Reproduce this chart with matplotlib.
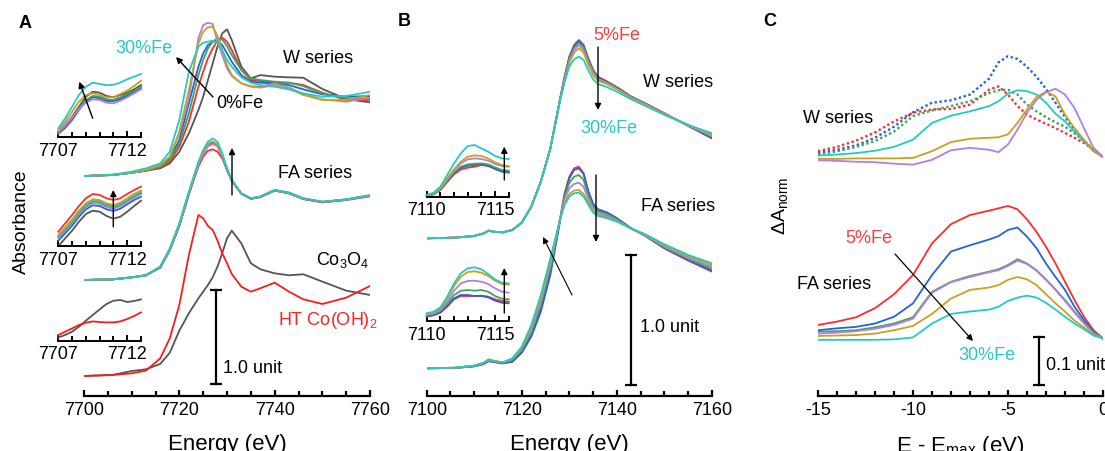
import matplotlib
matplotlib.use('Agg')
import matplotlib.pyplot as plt
from matplotlib.ticker import MultipleLocator, FixedLocator

plt.rcParams['font.family'] = ['Liberation Sans', 'DejaVu Sans']
plt.rcParams['mathtext.fontset'] = 'custom'
plt.rcParams['mathtext.rm'] = 'Liberation Sans'
plt.rcParams['mathtext.it'] = 'Liberation Sans:italic'
plt.rcParams['mathtext.bf'] = 'Liberation Sans:bold'
plt.rcParams['axes.unicode_minus'] = False

# ---------------- Panel A data (Co K-edge) ----------------
A_E = [7700, 7706, 7710, 7713, 7716, 7718, 7720, 7722, 7724, 7725, 7726, 7727, 7728,
       7729, 7730, 7731, 7733, 7735, 7737, 7740, 7743, 7746, 7750, 7755, 7760]
A_W_OFFSET = 2.34
A_FA_OFFSET = 1.234
A_REF_OFFSET = 0.213

A_W_gray = [0, .014, .035, .057, .082, .135, .259, .454, .702, .844, 1.021, 1.199, 1.376, 1.518, 1.560, 1.447, 1.163, 1.039, 1.074, 1.057, 1.050, 1.046, .926, .819, .784]
A_W_red = [0, .011, .035, .057, .092, .152, .312, .578, .950, 1.110, 1.252, 1.358, 1.440, 1.472, 1.429, 1.340, 1.128, 1.021, 1.011, .993, .993, .968, .887, .809, .809]
A_W_blue = [0, .011, .035, .057, .110, .188, .383, .773, 1.163, 1.305, 1.394, 1.429, 1.440, 1.394, 1.305, 1.216, 1.074, 1.004, .993, .986, .968, .922, .869, .844, .851]
A_W_green = [0, .011, .035, .057, .099, .170, .348, .667, 1.074, 1.234, 1.358, 1.429, 1.465, 1.454, 1.383, 1.287, 1.128, 1.039, 1.021, 1.004, .993, .957, .879, .826, .826]
A_W_purple = [0, .011, .035, .064, .117, .206, .454, .826, 1.465, 1.606, 1.631, 1.617, 1.429, 1.287, 1.145, 1.064, .986, .957, .950, .986, .943, .872, .816, .791, .833]
A_W_gold = [0, .011, .035, .064, .117, .206, .472, .915, 1.411, 1.535, 1.582, 1.589, 1.489, 1.340, 1.181, 1.074, .986, .950, .940, .968, .933, .862, .809, .809, .862]
A_W_cyan = [0, .014, .046, .082, .135, .259, .596, 1.110, 1.376, 1.418, 1.429, 1.440, 1.411, 1.340, 1.234, 1.163, 1.050, .993, .968, .950, .922, .879, .844, .851, .897]

A_FA_gray = [0, .007, .028, .050, .130, .315, .575, .910, 1.235, 1.350, 1.430, 1.455, 1.430, 1.318, 1.172, 1.058, .920, .866, .885, .955, .926, .866, .830, .855, .898]
A_FA_red = [0, .007, .028, .052, .140, .325, .585, .915, 1.206, 1.312, 1.376, 1.390, 1.365, 1.294, 1.170, 1.055, .918, .862, .880, .950, .920, .860, .825, .850, .890]
A_FA_blue = [0, .007, .028, .050, .136, .322, .585, .920, 1.235, 1.352, 1.432, 1.458, 1.432, 1.320, 1.175, 1.058, .920, .866, .885, .955, .926, .866, .830, .855, .898]
A_FA_green = [0, .007, .028, .050, .138, .325, .590, .925, 1.240, 1.360, 1.440, 1.465, 1.440, 1.325, 1.178, 1.060, .920, .869, .887, .957, .929, .866, .830, .855, .898]
A_FA_purple = [0, .007, .028, .050, .137, .324, .588, .922, 1.228, 1.345, 1.420, 1.445, 1.422, 1.315, 1.172, 1.057, .920, .866, .885, .955, .926, .866, .830, .855, .898]
A_FA_gold = [0, .007, .028, .050, .140, .330, .595, .930, 1.245, 1.365, 1.450, 1.475, 1.445, 1.330, 1.180, 1.060, .922, .869, .887, .957, .929, .869, .833, .858, .900]
A_FA_cyan = [0, .007, .028, .050, .142, .337, .603, .940, 1.259, 1.383, 1.472, 1.507, 1.472, 1.348, 1.188, 1.064, .922, .869, .887, .957, .929, .869, .833, .858, .904]

A_REF_CoOH2 = [0, .011, .028, .057, .188, .401, .755, 1.287, 1.713, 1.677, 1.596, 1.553, 1.440, 1.305, 1.199, 1.085, .950, .897, .933, .993, .897, .816, .766, .833, .957]
A_REF_Co3O4 = [0, .011, .053, .071, .128, .248, .482, .667, .826, .897, .968, 1.050, 1.163, 1.305, 1.465, 1.546, 1.411, 1.199, 1.135, 1.092, 1.071, 1.082, 1.004, .908, .862]

# pre-edge insets of panel A
A_IN_E = [7707, 7707.5, 7708, 7708.5, 7709, 7709.5, 7710, 7710.5, 7711, 7711.5, 7712, 7712.5, 7713]
A_IN1_gray = [.053, .12, .203, .303, .403, .453, .443, .41, .397, .42, .443, .477, .52]
A_IN1_red = [.03, .09, .17, .27, .36, .403, .39, .363, .363, .38, .41, .45, .487]
A_IN1_blue = [.04, .10, .18, .28, .36, .397, .39, .363, .36, .38, .413, .45, .49]
A_IN1_green = [.037, .103, .187, .287, .37, .41, .403, .377, .37, .397, .43, .463, .503]
A_IN1_purple = [.053, .12, .197, .277, .343, .377, .37, .343, .337, .363, .397, .437, .477]
A_IN1_gold = [.07, .153, .253, .353, .42, .437, .42, .397, .397, .43, .463, .51, .563]
A_IN1_cyan = [.087, .187, .303, .42, .503, .543, .53, .517, .523, .543, .577, .603, .63]

A_IN2_gray = [0, .077, .153, .243, .32, .353, .343, .30, .273, .293, .343, .40, .453]
A_IN2_red = [.143, .227, .31, .40, .477, .52, .51, .477, .46, .477, .52, .56, .593]
A_IN2_blue = [.053, .127, .203, .293, .367, .407, .40, .367, .35, .373, .417, .46, .493]
A_IN2_green = [.093, .167, .243, .333, .407, .447, .44, .407, .39, .413, .457, .50, .533]
A_IN2_purple = [.077, .15, .227, .317, .39, .43, .423, .39, .373, .397, .44, .483, .52]
A_IN2_gold = [.11, .187, .267, .353, .427, .467, .46, .427, .41, .433, .477, .52, .553]
A_IN2_cyan = [.10, .173, .253, .343, .417, .457, .45, .417, .40, .423, .467, .51, .547]

A_IN3_CoOH2 = [.057, .09, .123, .157, .18, .193, .187, .183, .183, .193, .217, .247, .283]
A_IN3_Co3O4 = [.033, .057, .09, .14, .2, .257, .313, .367, .4, .407, .387, .397, .413]

# ---------------- Panel B data (Fe K-edge) ----------------
B_E = [7100, 7106, 7110, 7112, 7113, 7114, 7116, 7118, 7120, 7122, 7124, 7126, 7128, 7129,
       7130, 7131, 7132, 7133, 7134, 7135, 7136, 7138, 7140, 7143, 7146, 7150, 7155, 7160]
B_W_OFFSET = 1.213
B_FA_OFFSET = 0.213

B_W_red = [0, .005, .018, .038, .059, .051, .046, .064, .121, .244, .436, .690, 1.064, 1.244, 1.397, 1.487, 1.526, 1.487, 1.385, 1.295, 1.244, 1.205, 1.162, 1.090, 1.038, .962, .864, .769]
B_W_blue = [0, .005, .018, .038, .059, .051, .046, .064, .121, .244, .436, .690, 1.062, 1.240, 1.392, 1.479, 1.518, 1.479, 1.377, 1.290, 1.238, 1.203, 1.162, 1.090, 1.036, .959, .867, .769]
B_W_green = [0, .005, .018, .038, .059, .051, .046, .064, .121, .244, .436, .690, 1.060, 1.230, 1.377, 1.467, 1.505, 1.469, 1.367, 1.282, 1.233, 1.197, 1.156, 1.085, 1.033, .956, .869, .782]
B_W_purple = [0, .005, .018, .038, .059, .051, .046, .064, .121, .244, .436, .690, 1.058, 1.220, 1.364, 1.449, 1.487, 1.449, 1.351, 1.269, 1.223, 1.192, 1.151, 1.082, 1.031, .956, .869, .787]
B_W_gold = [0, .005, .018, .038, .059, .051, .046, .064, .121, .244, .436, .690, 1.055, 1.210, 1.351, 1.428, 1.462, 1.428, 1.333, 1.256, 1.213, 1.185, 1.146, 1.079, 1.028, .954, .872, .795]
B_W_cyan = [0, .005, .018, .038, .059, .051, .046, .064, .121, .244, .436, .690, 1.051, 1.205, 1.321, 1.377, 1.397, 1.372, 1.290, 1.223, 1.187, 1.162, 1.128, 1.069, 1.018, .949, .872, .808]

B_FA_red = [0, .003, .015, .033, .056, .049, .038, .051, .121, .256, .462, .744, 1.141, 1.346, 1.474, 1.538, 1.551, 1.500, 1.359, 1.264, 1.223, 1.197, 1.154, 1.077, 1.018, .923, .828, .744]
B_FA_blue = [0, .003, .015, .033, .056, .049, .038, .051, .121, .244, .436, .718, 1.121, 1.333, 1.462, 1.526, 1.538, 1.495, 1.359, 1.264, 1.223, 1.197, 1.154, 1.077, 1.018, .923, .833, .751]
B_FA_green = [0, .004, .018, .038, .062, .054, .042, .064, .141, .274, .487, .769, 1.136, 1.321, 1.428, 1.474, 1.487, 1.449, 1.333, 1.244, 1.208, 1.185, 1.146, 1.074, 1.021, .931, .841, .767]
B_FA_purple = [0, .004, .019, .040, .064, .056, .044, .069, .150, .295, .513, .795, 1.141, 1.300, 1.385, 1.418, 1.428, 1.397, 1.300, 1.223, 1.192, 1.172, 1.136, 1.074, 1.023, .936, .851, .782]
B_FA_gold = [0, .005, .020, .042, .067, .058, .045, .073, .158, .313, .538, .821, 1.141, 1.274, 1.341, 1.367, 1.372, 1.341, 1.274, 1.208, 1.179, 1.162, 1.131, 1.074, 1.026, .944, .862, .795]
B_FA_cyan = [0, .005, .021, .044, .069, .059, .046, .077, .167, .333, .564, .846, 1.141, 1.256, 1.321, 1.346, 1.351, 1.321, 1.256, 1.197, 1.172, 1.154, 1.128, 1.077, 1.031, .954, .872, .808]

B_IN_E = [7110, 7110.5, 7111, 7111.5, 7112, 7112.5, 7113, 7113.5, 7114, 7114.5, 7115, 7115.5, 7116]
B_IN1_red = [.007, .023, .067, .147, .223, .273, .29, .30, .317, .307, .283, .26, .25]
B_IN1_blue = [.007, .027, .07, .153, .233, .29, .31, .317, .323, .31, .277, .25, .24]
B_IN1_green = [.007, .027, .073, .16, .24, .30, .323, .33, .333, .323, .293, .267, .26]
B_IN1_purple = [.01, .033, .08, .173, .26, .333, .373, .383, .377, .36, .327, .307, .30]
B_IN1_gold = [.01, .033, .083, .183, .273, .35, .40, .413, .407, .383, .343, .317, .307]
B_IN1_cyan = [.017, .04, .10, .217, .333, .433, .507, .517, .483, .45, .407, .383, .377]

B_IN2_red = [.043, .057, .083, .143, .217, .25, .25, .25, .253, .243, .217, .20, .193]
B_IN2_blue = [.047, .06, .087, .15, .227, .26, .26, .25, .25, .237, .203, .183, .177]
B_IN2_green = [.053, .07, .10, .17, .26, .303, .31, .303, .31, .293, .25, .223, .217]
B_IN2_purple = [.06, .077, .11, .193, .303, .377, .40, .403, .393, .37, .327, .293, .283]
B_IN2_gold = [.07, .087, .123, .223, .35, .443, .49, .497, .483, .45, .403, .37, .363]
B_IN2_cyan = [.077, .093, .137, .243, .377, .477, .527, .537, .517, .47, .417, .383, .377]

# ---------------- Panel C data (difference spectra) ----------------
C_DE = [-15, -14, -13, -12, -11, -10, -9, -8, -7, -6, -5.5, -5, -4.5, -4, -3.5, -3, -2.5, -2, -1.5, -1, -0.5, 0]
C_W_OFFSET = 0.498
C_FA_OFFSET = 0.120

C_W_blue = [.008, .015, .024, .040, .063, .093, .113, .118, .130, .163, .197, .210, .204, .188, .167, .142, .113, .083, .057, .033, .015, 0]
C_W_red = [.012, .021, .034, .051, .074, .092, .099, .100, .109, .140, .147, .130, .106, .088, .078, .069, .060, .050, .040, .029, .015, 0]
C_W_green = [.005, .012, .021, .033, .053, .085, .097, .106, .116, .133, .139, .140, .130, .109, .095, .083, .072, .063, .049, .033, .015, 0]
C_W_cyan = [.003, .005, .008, .013, .021, .036, .071, .086, .095, .106, .116, .132, .139, .137, .130, .113, .090, .074, .053, .033, .012, 0]
C_W_gold = [-.004, -.004, -.003, -.003, -.003, -.002, .012, .031, .038, .040, .041, .047, .071, .099, .125, .136, .126, .088, .060, .036, .012, 0]
C_W_purple = [-.007, -.008, -.010, -.011, -.014, -.016, -.006, .014, .019, .015, .010, .026, .057, .092, .119, .135, .142, .130, .102, .060, .019, 0]

C_FA_red = [.028, .035, .044, .063, .092, .132, .198, .238, .257, .266, .271, .276, .269, .248, .222, .191, .156, .118, .080, .045, .017, 0]
C_FA_blue = [.017, .021, .024, .031, .045, .073, .132, .181, .194, .206, .213, .226, .231, .212, .188, .156, .128, .101, .066, .038, .014, 0]
C_FA_green = [.014, .015, .017, .023, .031, .044, .097, .118, .130, .139, .144, .153, .165, .156, .142, .123, .102, .080, .056, .033, .012, 0]
C_FA_purple = [.010, .012, .015, .020, .028, .041, .095, .117, .128, .138, .142, .151, .162, .155, .141, .122, .101, .078, .054, .031, .010, 0]
C_FA_gold = [.005, .006, .007, .010, .017, .026, .051, .083, .101, .106, .111, .122, .128, .123, .111, .092, .073, .056, .037, .023, .007, 0]
C_FA_cyan = [-.003, -.003, -.003, -.003, -.002, .002, .031, .051, .056, .060, .066, .078, .085, .089, .085, .074, .060, .045, .031, .019, .006, 0]

# ---------------- styling ----------------
COL = dict(gray='#555555', red='#ff2b2b', blue='#2363d6', green='#3aa65b',
           purple='#b27ee3', gold='#c9a21a', cyan='#22c9c9')
LW = 1.3
FS = 13

W_PX, H_PX = 1105, 451
fig = plt.figure(figsize=(W_PX / 100, H_PX / 100), dpi=100)


def box(l, r, b, t):
    return [l / W_PX, 1 - b / H_PX, (r - l) / W_PX, (b - t) / H_PX]


def style(ax, xlim, major, minor, lw=1.6):
    ax.set_xlim(*xlim)
    for s in ['left', 'right', 'top']:
        ax.spines[s].set_visible(False)
    ax.spines['bottom'].set_linewidth(lw)
    ax.yaxis.set_visible(False)
    ax.xaxis.set_major_locator(FixedLocator(major))
    ax.xaxis.set_minor_locator(MultipleLocator(minor))
    ax.tick_params(axis='x', which='major', direction='in', length=4.5, width=lw,
                   labelsize=FS, pad=4)
    ax.tick_params(axis='x', which='minor', direction='in', length=3.5, width=lw)
    ax.patch.set_alpha(0)


def scalebar(ax, x, y0, y1):
    ax.plot([x, x], [y0, y1], color='k', lw=1.6, marker='_', ms=8, mew=1.6,
            clip_on=False)


# ---- Panel A ----
axA = fig.add_axes(box(84, 370, 396, 16))
style(axA, (7700, 7760), [7700, 7720, 7740, 7760], 5)
axA.set_ylim(0, 380 / 94)
for name, arr in [('gray', A_W_gray), ('red', A_W_red), ('blue', A_W_blue), ('green', A_W_green),
                  ('purple', A_W_purple), ('gold', A_W_gold), ('cyan', A_W_cyan)]:
    axA.plot(A_E, [v + A_W_OFFSET for v in arr], color=COL[name], lw=LW)
for name, arr in [('gray', A_FA_gray), ('red', A_FA_red), ('blue', A_FA_blue), ('green', A_FA_green),
                  ('purple', A_FA_purple), ('gold', A_FA_gold), ('cyan', A_FA_cyan)]:
    axA.plot(A_E, [v + A_FA_OFFSET for v in arr], color=COL[name], lw=LW)
axA.plot(A_E, [v + A_REF_OFFSET for v in A_REF_Co3O4], color=COL['gray'], lw=LW)
axA.plot(A_E, [v + A_REF_OFFSET for v in A_REF_CoOH2], color='#ff1a1a', lw=LW)
scalebar(axA, 7727.7, 0.128, 1.128)
axA.set_xlabel('Energy (eV)', fontsize=16, labelpad=11)

insA = [
    (137, 0.64, [('gray', A_IN1_gray), ('red', A_IN1_red), ('blue', A_IN1_blue), ('green', A_IN1_green),
                 ('purple', A_IN1_purple), ('gold', A_IN1_gold), ('cyan', A_IN1_cyan)]),
    (246, 0.62, [('gray', A_IN2_gray), ('blue', A_IN2_blue), ('purple', A_IN2_purple), ('green', A_IN2_green),
                 ('cyan', A_IN2_cyan), ('gold', A_IN2_gold), ('red', A_IN2_red)]),
    (340.7, 0.5, [('gray', A_IN3_Co3O4), ('red', A_IN3_CoOH2)]),
]
for bottom, ytop, curves in insA:
    ax = fig.add_axes(box(58.3, 141, bottom, bottom - ytop * 100))
    style(ax, (7707, 7713), [7707, 7712], 1, lw=1.4)
    ax.set_ylim(0, ytop)
    for name, arr in curves:
        c = '#ff1a1a' if (name == 'red' and len(curves) == 2) else COL[name]
        ax.plot(A_IN_E, arr, color=c, lw=LW, clip_on=False)

# ---- Panel B ----
axB = fig.add_axes(box(426.7, 712, 396, 16))
style(axB, (7100, 7160), [7100, 7120, 7140, 7160], 5)
axB.set_ylim(0, 380 / 130)
for name, arr in [('red', B_W_red), ('blue', B_W_blue), ('green', B_W_green),
                  ('purple', B_W_purple), ('gold', B_W_gold), ('cyan', B_W_cyan)]:
    axB.plot(B_E, [v + B_W_OFFSET for v in arr], color=COL[name], lw=LW)
for name, arr in [('red', B_FA_red), ('blue', B_FA_blue), ('green', B_FA_green),
                  ('purple', B_FA_purple), ('gold', B_FA_gold), ('cyan', B_FA_cyan)]:
    axB.plot(B_E, [v + B_FA_OFFSET for v in arr], color=COL[name], lw=LW)
scalebar(axB, 7143.0, 0.085, 1.085)
axB.set_xlabel('Energy (eV)', fontsize=16, labelpad=11)

insB = [
    (196.7, [('red', B_IN1_red), ('blue', B_IN1_blue), ('green', B_IN1_green),
             ('purple', B_IN1_purple), ('gold', B_IN1_gold), ('cyan', B_IN1_cyan)]),
    (321, [('red', B_IN2_red), ('blue', B_IN2_blue), ('green', B_IN2_green),
           ('purple', B_IN2_purple), ('gold', B_IN2_gold), ('cyan', B_IN2_cyan)]),
]
for bottom, curves in insB:
    ax = fig.add_axes(box(426.7, 508.7, bottom, bottom - 60))
    style(ax, (7110, 7116), [7110, 7115], 1, lw=1.4)
    ax.set_ylim(0, 0.6)
    for name, arr in curves:
        ax.plot(B_IN_E, arr, color=COL[name], lw=LW, clip_on=False)

# ---- Panel C ----
axC = fig.add_axes(box(818, 1103, 396, 16))
style(axC, (-15, 0), [-15, -10, -5, 0], 1)
axC.set_ylim(0, 380 / 480)
DOT = (0, (1.0, 1.1))
for name, arr in [('blue', C_W_blue), ('red', C_W_red), ('green', C_W_green)]:
    axC.plot(C_DE, [v + C_W_OFFSET for v in arr], color=COL[name], lw=1.7, ls=DOT)
for name, arr in [('cyan', C_W_cyan), ('gold', C_W_gold), ('purple', C_W_purple)]:
    axC.plot(C_DE, [v + C_W_OFFSET for v in arr], color=COL[name], lw=LW)
for name, arr in [('red', C_FA_red), ('blue', C_FA_blue), ('green', C_FA_green),
                  ('purple', C_FA_purple), ('gold', C_FA_gold), ('cyan', C_FA_cyan)]:
    axC.plot(C_DE, [v + C_FA_OFFSET for v in arr], color=COL[name], lw=LW)
scalebar(axC, -3.37, 0.023, 0.123)
axC.set_xlabel('E - E$_{\\mathrm{max}}$ (eV)', fontsize=16, labelpad=11)

# ---- overlay for labels and arrows (pixel coordinates) ----
ov = fig.add_axes([0, 0, 1, 1])
ov.set_xlim(0, W_PX)
ov.set_ylim(H_PX, 0)
ov.axis('off')
ov.patch.set_alpha(0)


def txt(x, y, s, color='k', fs=FS, **kw):
    ov.text(x, y, s, color=color, fontsize=fs, ha='left', va='baseline', **kw)


def arrow(tail, head, lw=1.0, color='k'):
    ov.annotate('', xy=head, xytext=tail,
                arrowprops=dict(arrowstyle='-|>', color=color, lw=lw,
                                mutation_scale=9, shrinkA=0, shrinkB=0))


# panel letters
for x, y, s in [(25, 28, 'A'), (404, 26, 'B'), (770, 26, 'C')]:
    ov.text(x, y, s, fontsize=13, fontweight='bold', ha='center', va='baseline')

ov.text(21.7, 222, 'Absorbance', rotation=90, fontsize=14, ha='center', va='center')
ov.text(780, 206, 'ΔA$_{\\mathrm{norm}}$', rotation=90, fontsize=14, ha='center', va='center')

# panel A labels
txt(115, 53, '30%Fe', color=COL['cyan'])
txt(216, 108, '0%Fe')
txt(283, 63, 'W series')
txt(278, 178, 'FA series')
txt(316, 265, 'Co$_3$O$_4$')
txt(278, 325, 'HT Co(OH)$_2$', color='#ff2020')
txt(223, 373, '1.0 unit')
arrow((213, 97), (176, 57))
arrow((232, 195), (232, 148))
arrow((92.7, 118.3), (79.3, 81.7))
arrow((113.3, 226.7), (113.3, 190))

# panel B labels
txt(593, 40, '5%Fe', color='#ff3b3b')
txt(580, 133, '30%Fe', color=COL['cyan'])
txt(643, 87, 'W series')
txt(641, 211, 'FA series')
txt(640, 332, '1.0 unit')
arrow((598, 47), (598, 110))
arrow((596, 175), (596, 242))
arrow((572, 295), (543, 237), lw=0.8)
arrow((504.3, 180), (504.3, 146.7))
arrow((504.3, 313), (504.3, 268))

# panel C labels
txt(803, 123, 'W series')
txt(845, 243, '5%Fe', color='#ff3b3b')
txt(797, 289, 'FA series')
txt(958, 360, '30%Fe', color=COL['cyan'])
txt(1046, 370, '0.1 unit')
arrow((895, 254), (973, 341), lw=0.9)

fig.savefig('out.png', dpi=100)
